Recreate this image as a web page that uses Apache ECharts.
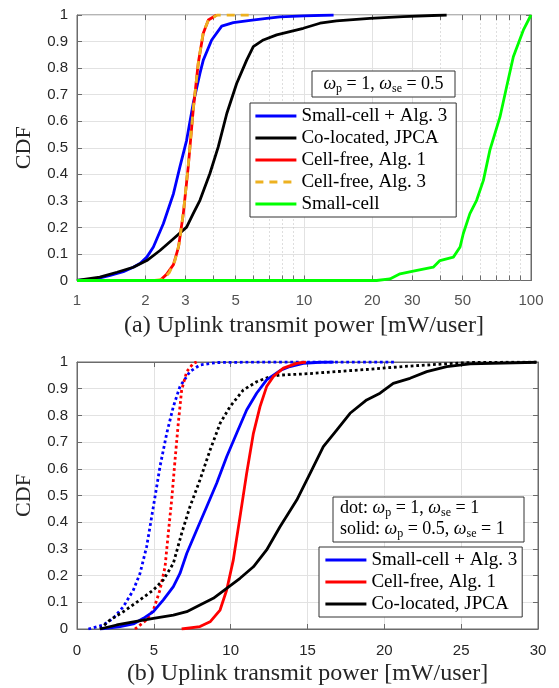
<!DOCTYPE html>
<html><head><meta charset="utf-8">
<script src="https://cdn.jsdelivr.net/npm/echarts@6/dist/echarts.min.js"></script>
<style>html,body{margin:0;padding:0;background:#fff}#c{width:559px;height:688px}</style>
</head><body><div id="c"></div>
<script>
// ---------- (a) omega_p = 1, omega_se = 0.5 (log x axis) ----------
const aSmallAlg3X = [1.0, 1.2, 1.4, 1.6, 1.77, 1.9, 2.03, 2.17, 2.4, 2.66, 2.84, 3.04, 3.25, 3.48, 3.6, 3.92, 4.34, 4.88, 5.8, 6.85, 7.84, 10, 13.5];
const aSmallAlg3Y = [0, 0.005, 0.019, 0.033, 0.05, 0.065, 0.088, 0.126, 0.214, 0.327, 0.428, 0.528, 0.667, 0.78, 0.83, 0.906, 0.958, 0.971, 0.98, 0.987, 0.993, 0.997, 1];
const aColocX = [1.0, 1.26, 1.5, 1.77, 2.03, 2.32, 2.66, 3.04, 3.25, 3.48, 3.85, 4.19, 4.57, 5.05, 5.59, 5.98, 6.62, 7.58, 8.67, 9.93, 11.76, 13.9, 19.5, 27.4, 42.5];
const aColocY = [0, 0.013, 0.031, 0.05, 0.075, 0.113, 0.157, 0.201, 0.252, 0.302, 0.403, 0.503, 0.629, 0.742, 0.83, 0.881, 0.906, 0.925, 0.937, 0.95, 0.969, 0.978, 0.987, 0.994, 1];
const aCfAlg1X = [2.32, 2.48, 2.66, 2.80, 2.94, 3.09, 3.25, 3.42, 3.60, 3.79, 4.12];
const aCfAlg1Y = [0, 0.023, 0.06, 0.126, 0.252, 0.428, 0.642, 0.818, 0.931, 0.981, 1];
const aCfAlg3X = [2.2, 2.4, 2.55, 2.7, 2.82, 2.95, 3.1, 3.26, 3.43, 3.6, 3.8, 4.15, 6.0];
const aCfAlg3Y = [0, 0.005, 0.03, 0.075, 0.14, 0.265, 0.445, 0.655, 0.825, 0.935, 0.982, 1, 1];
const aSmallX = [1, 20.9, 23.9, 26.5, 30.3, 37.1, 39.7, 45.5, 48.7, 50.3, 53.8, 57.6, 61.7, 65.9, 73.0, 78.1, 83.6, 92.5, 100];
const aSmallY = [0, 0, 0.006, 0.025, 0.035, 0.05, 0.075, 0.088, 0.126, 0.176, 0.252, 0.302, 0.377, 0.491, 0.616, 0.73, 0.843, 0.943, 1];

// ---------- (b) linear x axis ----------
// dotted: omega_p = 1, omega_se = 1
const bSmallDotX = [0.74, 1.71, 2.36, 3.02, 3.67, 4.10, 4.53, 4.97, 5.40, 5.84, 6.27, 6.70, 7.35, 8.0, 9.09, 12, 20.8];
const bSmallDotY = [0, 0.015, 0.04, 0.084, 0.146, 0.208, 0.308, 0.458, 0.608, 0.733, 0.833, 0.908, 0.964, 0.989, 0.998, 1, 1];
const bCfDotX = [3.77, 4.53, 4.97, 5.40, 5.73, 5.94, 6.16, 6.38, 6.59, 6.81, 7.14, 7.57, 7.79];
const bCfDotY = [0, 0.034, 0.071, 0.146, 0.233, 0.358, 0.483, 0.633, 0.77, 0.895, 0.964, 0.995, 1];
const bColocDotX = [1.5, 2.15, 3.02, 4.10, 4.97, 5.62, 6.27, 6.81, 7.35, 8.0, 8.66, 9.31, 9.96, 10.82, 11.69, 12.56, 13.2, 14.73, 16.9, 19.08, 21.2, 23.4, 25.5, 29.9];
const bColocDotY = [0, 0.034, 0.065, 0.109, 0.146, 0.184, 0.246, 0.358, 0.458, 0.558, 0.67, 0.77, 0.833, 0.895, 0.926, 0.945, 0.951, 0.955, 0.964, 0.973, 0.983, 0.991, 0.998, 1];
// solid: omega_p = 0.5, omega_se = 1
const bSmallX = [1.5, 2.8, 3.67, 4.32, 4.97, 5.62, 6.27, 6.70, 7.14, 7.79, 8.44, 9.09, 9.74, 10.39, 11.04, 11.69, 12.34, 13.21, 13.86, 14.73, 15.8, 16.7];
const bSmallY = [0, 0.009, 0.019, 0.04, 0.065, 0.109, 0.159, 0.208, 0.283, 0.371, 0.458, 0.546, 0.645, 0.733, 0.82, 0.883, 0.933, 0.968, 0.983, 0.995, 0.999, 1];
const bCfX = [6.81, 8.0, 8.66, 9.31, 9.74, 10.17, 10.61, 11.04, 11.48, 11.91, 12.34, 12.77, 13.43, 14.3, 14.9];
const bCfY = [0, 0.009, 0.027, 0.071, 0.146, 0.258, 0.421, 0.583, 0.733, 0.833, 0.908, 0.945, 0.977, 0.995, 1];
const bColocX = [1.5, 2.58, 3.67, 4.97, 6.27, 7.14, 8.0, 8.87, 9.74, 10.61, 11.48, 12.34, 13.21, 14.3, 15.17, 16.03, 16.9, 17.77, 18.85, 19.72, 20.58, 21.67, 22.76, 24.06, 25.58, 29.9];
const bColocY = [0, 0.015, 0.027, 0.04, 0.052, 0.065, 0.09, 0.115, 0.152, 0.19, 0.233, 0.296, 0.383, 0.483, 0.583, 0.683, 0.745, 0.808, 0.858, 0.883, 0.92, 0.939, 0.964, 0.983, 0.993, 0.999];

// tick labels / grid values for the log axis
const logMajorTicks = [1, 2, 3, 5, 10, 20, 30, 50, 100];
const logMinorTicks = [4, 6, 7, 8, 9, 40, 60, 70, 80, 90];

const namesA = ['Small-cell + Alg. 3', 'Co-located, JPCA', 'Cell-free, Alg. 1', 'Cell-free, Alg. 3', 'Small-cell'];
const namesB = ['Small-cell + Alg. 3', 'Cell-free, Alg. 1', 'Co-located, JPCA'];
const captionA = '(a) Uplink transmit power [mW/user]';
const captionB = '(b) Uplink transmit power [mW/user]';

const zip = (xs, ys) => xs.map((x, i) => [x, ys[i]]);
const FRAME = '#6b6b6b', GRID = '#e2e2e2', TXT = '#262626';
const SERIF = 'Liberation Serif', SANS = 'Liberation Sans';
const LW = 2.8;

function line(name, data, color, xi, yi, type, z) {
  return { type: 'line', name, data, xAxisIndex: xi, yAxisIndex: yi, symbol: 'none', silent: true, z: z || 3,
    lineStyle: { color, width: LW, type: type || 'solid', join: 'round' }, itemStyle: { color } };
}

const innerMajor = logMajorTicks.filter(v => v !== 1 && v !== 100);
const tickLen = 0.019; // 5px in y units
const tickSegs = [];
innerMajor.concat(logMinorTicks).forEach(v => {
  tickSegs.push({ coords: [[v, 0], [v, tickLen]] });
  tickSegs.push({ coords: [[v, 1 - tickLen], [v, 1]] });
});

const series = [
  // log-axis grid lines (solid at labelled ticks, dotted at minor ticks)
  { type: 'lines', coordinateSystem: 'cartesian2d', xAxisIndex: 0, yAxisIndex: 0, silent: true, z: 1, polyline: false,
    lineStyle: { color: GRID, width: 1, type: 'solid', opacity: 1 },
    data: innerMajor.map(v => ({ coords: [[v, 0], [v, 1]] })) },
  { type: 'lines', coordinateSystem: 'cartesian2d', xAxisIndex: 0, yAxisIndex: 0, silent: true, z: 1, polyline: false,
    lineStyle: { color: '#bdbdbd', width: 1, type: [1, 3], opacity: 1 },
    data: logMinorTicks.map(v => ({ coords: [[v, 0], [v, 1]] })) },
  { type: 'lines', coordinateSystem: 'cartesian2d', xAxisIndex: 0, yAxisIndex: 0, silent: true, z: 2, polyline: false,
    lineStyle: { color: FRAME, width: 1, type: 'solid', opacity: 1 }, data: tickSegs },
  // log-axis tick labels
  { type: 'scatter', xAxisIndex: 0, yAxisIndex: 0, silent: true, z: 2, symbolSize: 0, clip: false,
    data: logMajorTicks.map(v => [v, 0]),
    label: { show: true, position: 'bottom', distance: 13, color: TXT, fontFamily: SANS, fontSize: 15,
      formatter: p => String(p.value[0]) } },

  line(namesA[0], zip(aSmallAlg3X, aSmallAlg3Y), '#0000ff', 0, 0),
  line(namesA[1], zip(aColocX, aColocY), '#000000', 0, 0),
  line(namesA[2], zip(aCfAlg1X, aCfAlg1Y), '#ff0000', 0, 0),
  line(namesA[3], zip(aCfAlg3X, aCfAlg3Y), '#edb120', 0, 0, [8, 6]),
  line(namesA[4], zip(aSmallX, aSmallY), '#00ff00', 0, 0),

  line('Small-cell + Alg. 3 (dot)', zip(bSmallDotX, bSmallDotY), '#0000ff', 1, 2, 'dotted'),
  line('Cell-free, Alg. 1 (dot)', zip(bCfDotX, bCfDotY), '#ff0000', 1, 2, 'dotted'),
  line('Co-located, JPCA (dot)', zip(bColocDotX, bColocDotY), '#000000', 1, 2, 'dotted'),
  line(namesB[0], zip(bSmallX, bSmallY), '#0000ff', 1, 2),
  line(namesB[1], zip(bCfX, bCfY), '#ff0000', 1, 2),
  line(namesB[2], zip(bColocX, bColocY), '#000000', 1, 2)
];

const yTick = { show: true, inside: true, length: 5, lineStyle: { color: FRAME } };
const axisLine = { show: true, onZero: false, lineStyle: { color: FRAME, width: 1 } };
const yLabel = { color: TXT, fontFamily: SANS, fontSize: 15, margin: 9 };
const nameStyleY = { fontFamily: SERIF, fontSize: 22, color: TXT };
const nameStyleX = { fontFamily: SERIF, fontSize: 24, color: TXT };

const legendBase = {
  orient: 'vertical', itemGap: 0, itemWidth: 41, itemHeight: 14,
  backgroundColor: '#fff', borderColor: '#333', borderWidth: 1, borderRadius: 0, selectedMode: false,
  itemStyle: { opacity: 0 },
  lineStyle: { width: 2.8 },
  textStyle: { fontFamily: SERIF, fontSize: 19, color: '#000', lineHeight: 22 }
};

const option = {
  animation: false,
  backgroundColor: '#fff',
  grid: [
    { left: 77, right: 28, top: 15, bottom: 407.5, show: true, borderColor: FRAME, borderWidth: 1, backgroundColor: 'transparent' },
    { left: 77, right: 21, top: 362, bottom: 59, show: true, borderColor: FRAME, borderWidth: 1, backgroundColor: 'transparent' }
  ],
  xAxis: [
    { type: 'log', logBase: 10, min: 1, max: 100, gridIndex: 0, axisLine, axisTick: { show: false }, axisLabel: { show: false }, splitLine: { show: false },
      name: captionA, nameLocation: 'middle', nameGap: 33, nameTextStyle: nameStyleX },
    { type: 'value', min: 0, max: 30, interval: 5, gridIndex: 1, axisLine, axisTick: yTick,
      axisLabel: { color: TXT, fontFamily: SANS, fontSize: 15, margin: 14 },
      splitLine: { show: true, lineStyle: { color: GRID, width: 1 } },
      name: captionB, nameLocation: 'middle', nameGap: 33, nameTextStyle: nameStyleX },
    { type: 'value', min: 0, max: 30, interval: 5, gridIndex: 1, position: 'top', axisLine, axisTick: yTick, axisLabel: { show: false }, splitLine: { show: false } }
  ],
  yAxis: [
    { type: 'value', min: 0, max: 1, interval: 0.1, gridIndex: 0, axisLine, axisTick: yTick, axisLabel: yLabel,
      splitLine: { show: true, lineStyle: { color: GRID, width: 1 } },
      name: 'CDF', nameLocation: 'middle', nameGap: 42, nameRotate: 90, nameTextStyle: nameStyleY },
    { type: 'value', min: 0, max: 1, interval: 0.1, gridIndex: 0, position: 'right', axisLine, axisTick: yTick, axisLabel: { show: false }, splitLine: { show: false } },
    { type: 'value', min: 0, max: 1, interval: 0.1, gridIndex: 1, axisLine, axisTick: yTick, axisLabel: yLabel,
      splitLine: { show: true, lineStyle: { color: GRID, width: 1 } },
      name: 'CDF', nameLocation: 'middle', nameGap: 42, nameRotate: 90, nameTextStyle: nameStyleY },
    { type: 'value', min: 0, max: 1, interval: 0.1, gridIndex: 1, position: 'right', axisLine, axisTick: yTick, axisLabel: { show: false }, splitLine: { show: false } }
  ],
  legend: [
    Object.assign({}, legendBase, { left: 250, top: 103, padding: [2, 9, 2, 4], data: namesA }),
    Object.assign({}, legendBase, { left: 319, top: 547, padding: [2, 5, 2, 5], data: namesB })
  ],
  graphic: (function () {
    const rich = {
      n: { fontFamily: SERIF, fontSize: 18, lineHeight: 22, fill: '#000' },
      i: { fontFamily: SERIF, fontSize: 18, fontStyle: 'italic', lineHeight: 22, fill: '#000' },
      s: { fontFamily: SERIF, fontSize: 12, lineHeight: 12, verticalAlign: 'bottom', fill: '#000' }
    };
    return [
      { type: 'rect', shape: { x: 312, y: 71, width: 143, height: 26 }, style: { fill: '#fff', stroke: '#333', lineWidth: 1 }, z: 100 },
      { type: 'text', x: 383.5, y: 84, z: 101, style: { text: '{i|ω}{s|p}{n| = 1, }{i|ω}{s|se}{n| = 0.5}', rich, align: 'center', verticalAlign: 'middle' } },
      { type: 'rect', shape: { x: 333, y: 497, width: 191, height: 45 }, style: { fill: '#fff', stroke: '#333', lineWidth: 1 }, z: 100 },
      { type: 'text', x: 340, y: 508, z: 101, style: { text: '{n|dot: }{i|ω}{s|p}{n| = 1, }{i|ω}{s|se}{n| = 1}', rich, align: 'left', verticalAlign: 'middle' } },
      { type: 'text', x: 340, y: 529, z: 101, style: { text: '{n|solid: }{i|ω}{s|p}{n| = 0.5, }{i|ω}{s|se}{n| = 1}', rich, align: 'left', verticalAlign: 'middle' } }
    ];
  })(),
  series
};

const chart = echarts.init(document.getElementById('c'), null, { renderer: 'canvas' });
chart.setOption(option);
</script></body></html>
